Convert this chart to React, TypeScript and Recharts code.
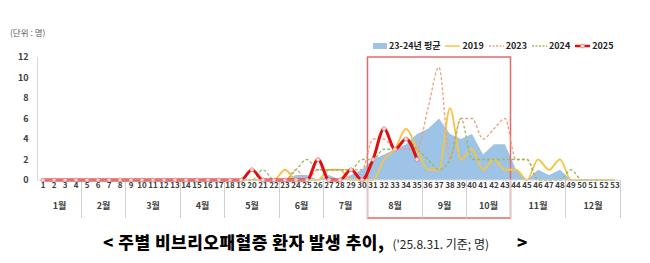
import React from "react";
import { ComposedChart, Area, Line, XAxis, YAxis, ReferenceArea, ReferenceLine } from "recharts";

const weeks = [1, 2, 3, 4, 5, 6, 7, 8, 9, 10, 11, 12, 13, 14, 15, 16, 17, 18, 19, 20, 21, 22, 23, 24, 25, 26, 27, 28, 29, 30, 31, 32, 33, 34, 35, 36, 37, 38, 39, 40, 41, 42, 43, 44, 45, 46, 47, 48, 49, 50, 51, 52, 53];

const avg2324 = [0, 0, 0, 0, 0, 0, 0, 0, 0, 0, 0, 0, 0, 0, 0, 0, 0, 0, 0, 0,
  0, 0, 0, 0.5, 0.5, 0, 0.5, 0, 0.5, 1,
  2, 2.5, 3, 3.5, 4.5, 5, 6, 4.5, 4, 4.5,
  2.5, 3.5, 3.5, 1, 0, 1, 0.5, 1, 0, 0,
  0, 0, 0];

const y2019 = [0, 0, 0, 0, 0, 0, 0, 0, 0, 0, 0, 0, 0, 0, 0, 0, 0, 0, 0, 0,
  0, 0, 1, 0, 0, 0, 1, 1, 0, 0,
  0, 2, 3, 5, 3, 1, 1, 7, 2, 3,
  1, 2, 1, 1, 0, 2, 1, 2, 0, 0,
  0, 0, 0];

const y2023 = [0, 0, 0, 0, 0, 0, 0, 0, 0, 0, 0, 0, 0, 0, 0, 0, 0, 0, 0, 0,
  0, 0, 0, 1, 0, 1, 1, 1, 1, 1,
  4, 4, 3, 3, 3, 7, 11, 2, 6, 6,
  4, 5, 6, 2, 2, 0, 0, 0, 0, 0,
  0, 0, 0];

const y2024 = [0, 0, 0, 0, 0, 0, 0, 0, 0, 0, 0, 0, 0, 0, 0, 0, 0, 0, 0, 0,
  1, 0, 0, 1, 2, 1, 1, 1, 1, 2,
  2, 3, 3, 4, 3, 2, 1, 2, 6, 2,
  2, 2, 2, 2, 2, 0, 0, 0, 1, 0,
  0, 0, 0];

const y2025 = [0, 0, 0, 0, 0, 0, 0, 0, 0, 0, 0, 0, 0, 0, 0, 0, 0, 0, 0, 1,
  0, 0, 0, 0, 0, 2, 0, 0, 1, 0,
  2, 5, 3, 4, 2, null, null, null, null, null,
  null, null, null, null, null, null, null, null, null, null,
  null, null, null];

const months = ["1월", "2월", "3월", "4월", "5월", "6월", "7월", "8월", "9월", "10월", "11월", "12월"];
const monthWeekCounts = [4, 4, 5, 4, 5, 4, 4, 5, 4, 4, 5, 5];
const yTicks = [0, 2, 4, 6, 8, 10, 12];
const highlightFrom = 31;
const highlightTo = 43;

const data = weeks.map((w, i) => ({
  week: w,
  avg: avg2324[i],
  y2019: y2019[i],
  y2023: y2023[i],
  y2024: y2024[i],
  y2025: y2025[i],
}));

const monthCenters: number[] = [];
const monthBounds: number[] = [];
{
  let acc = 0;
  monthWeekCounts.forEach((n) => {
    monthCenters.push(acc + (n + 1) / 2);
    acc += n;
    monthBounds.push(acc + 0.5);
  });
}

const FONT = "'Noto Sans CJK KR', 'Noto Sans', sans-serif";
const C_AVG = "#9DC3E6";
const C_2019 = "#F5C542";
const C_2023 = "#EE9F7C";
const C_2024 = "#9BBB59";
const C_2025 = "#E01010";
const SEP_LEN = 38;

const LegendItem = ({ swatch, label }: { swatch: React.ReactNode; label: string }) => (
  <div style={{ display: "flex", alignItems: "center", marginRight: 5 }}>
    {swatch}
    <span style={{ marginLeft: 2 }}>{label}</span>
  </div>
);

const lineSwatch = (color: string, dash?: string, width = 1.5, marker = false) => (
  <svg width={15} height={8}>
    <line x1={0} y1={4} x2={15} y2={4} stroke={color} strokeWidth={width} strokeDasharray={dash} />
    {marker && <circle cx={7.5} cy={4} r={2} fill="#FBE0E0" stroke="#E58080" strokeWidth={0.8} />}
  </svg>
);

const sepShape = (p: any) => {
  const x = Number(p.x1);
  const bottom = Math.max(Number(p.y1), Number(p.y2));
  return <line x1={x} y1={bottom} x2={x} y2={bottom + SEP_LEN} stroke="#D0D0D0" strokeWidth={1} />;
};

export default function App() {
  return (
    <div style={{ position: "absolute", left: 0, top: 0, width: 650, height: 263, background: "#fff", fontFamily: FONT }}>
      <div style={{ position: "absolute", left: 10, top: 26, fontSize: 8.5, color: "#595959" }}>(단위 : 명)</div>
      <div
        style={{
          position: "absolute",
          left: 373,
          top: 39,
          display: "flex",
          alignItems: "center",
          fontSize: 9,
          fontWeight: 700,
          color: "#262626",
          whiteSpace: "nowrap",
        }}
      >
        <LegendItem swatch={<div style={{ width: 14, height: 6, background: C_AVG }} />} label="23-24년 평균" />
        <LegendItem swatch={lineSwatch(C_2019)} label="2019" />
        <LegendItem swatch={lineSwatch(C_2023, "2 1.5", 1.3)} label="2023" />
        <LegendItem swatch={lineSwatch(C_2024, "2 1.5", 1.3)} label="2024" />
        <LegendItem swatch={lineSwatch(C_2025, undefined, 2.5, true)} label="2025" />
      </div>
      <ComposedChart
        width={650}
        height={263}
        data={data}
        margin={{ top: 57, right: 29.5, bottom: 38, left: 0.5 }}
      >
        <XAxis
          xAxisId="b_w"
          type="number"
          dataKey="week"
          domain={[0.5, 53.5]}
          ticks={weeks}
          interval={0}
          axisLine={{ stroke: "#D9D9D9" }}
          tickLine={false}
          tickSize={0}
          tickMargin={2}
          height={20}
          tick={{ fontSize: 8, fontWeight: 700, fill: "#404040", fontFamily: FONT }}
        />
        <XAxis
          xAxisId="c_m"
          type="number"
          dataKey="week"
          domain={[0.5, 53.5]}
          ticks={monthCenters}
          interval={0}
          tickFormatter={(_v: number, i: number) => months[i]}
          axisLine={false}
          tickLine={false}
          tickSize={0}
          tickMargin={3}
          height={25}
          tick={{ fontSize: 9, fontWeight: 700, fill: "#404040", fontFamily: FONT }}
        />
        <YAxis
          domain={[0, 12]}
          ticks={yTicks}
          interval={0}
          axisLine={{ stroke: "#D9D9D9" }}
          tickLine={false}
          tickSize={0}
          tickMargin={9}
          width={37}
          tick={{ fontSize: 9, fontWeight: 700, fill: "#404040", fontFamily: FONT }}
        />
        {monthBounds.map((b) => (
          <ReferenceLine key={b} xAxisId="b_w" x={b} ifOverflow="visible" shape={sepShape} />
        ))}
        <Area
          xAxisId="b_w"
          type="linear"
          dataKey="avg"
          stroke="none"
          fill={C_AVG}
          fillOpacity={1}
          isAnimationActive={false}
          dot={false}
          activeDot={false}
        />
        <Line xAxisId="b_w" type="monotone" dataKey="y2019" stroke={C_2019} strokeWidth={1.8} dot={false} activeDot={false} isAnimationActive={false} />
        <Line xAxisId="b_w" type="monotone" dataKey="y2023" stroke={C_2023} strokeWidth={1.3} strokeDasharray="3 2" dot={false} activeDot={false} isAnimationActive={false} />
        <Line xAxisId="b_w" type="monotone" dataKey="y2024" stroke={C_2024} strokeWidth={1.3} strokeDasharray="3 2" dot={false} activeDot={false} isAnimationActive={false} />
        <Line
          xAxisId="b_w"
          type="monotone"
          dataKey="y2025"
          stroke={C_2025}
          strokeWidth={3}
          dot={{ r: 2, fill: "#FBE0E0", stroke: "#E58080", strokeWidth: 0.8 }}
          activeDot={false}
          isAnimationActive={false}
        />
        <ReferenceArea
          xAxisId="b_w"
          x1={highlightFrom - 0.5}
          x2={highlightTo + 0.5}
          y1={0}
          y2={12}
          ifOverflow="visible"
          shape={(p: any) => (
            <rect x={p.x} y={p.y} width={p.width} height={p.height + SEP_LEN} fill="none" stroke="#E46A6A" strokeWidth={1.5} />
          )}
        />
      </ComposedChart>
      <div
        style={{
          position: "absolute",
          left: 103,
          top: 229,
          display: "flex",
          alignItems: "baseline",
          whiteSpace: "nowrap",
          color: "#000",
        }}
      >
        <span style={{ fontSize: 17, fontWeight: 800, letterSpacing: 0.5 }}>&lt; 주별 비브리오패혈증 환자 발생 추이,</span>
        <span style={{ fontSize: 12, marginLeft: 8, color: "#222" }}>('25.8.31. 기준; 명)</span>
        <span style={{ fontSize: 17, fontWeight: 800, marginLeft: 28 }}>&gt;</span>
      </div>
    </div>
  );
}
